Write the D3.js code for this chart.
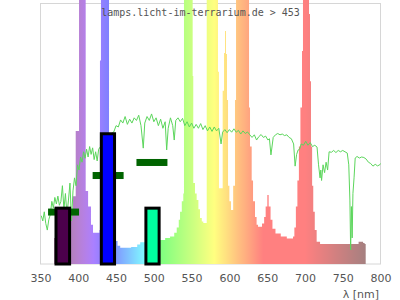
<!DOCTYPE html>
<html lang="en">
<head>
<meta charset="UTF-8">
<title>Lamp spectrum</title>
<script src="https://d3js.org/d3.v7.min.js"></script>
<style>
    body { margin: 0; padding: 0; background: #fff; }
    svg { display: block; }
    .tick text { font-family: 'DejaVu Sans', sans-serif; font-size: 11px; fill: #555; }
</style>
</head>
<body>
<div id="chart"></div>
<script>
// lamp spectrum (step columns, value holds until next wavelength)
const lampNm = [368, 376, 382, 387, 390, 393, 396.6, 401, 409.8, 413, 416.8, 419.5, 428, 428.7, 430, 440.7, 444, 448.6, 452, 455.5,
    470, 478, 482, 492, 505, 515, 521.5, 527, 530.3, 533, 534.7, 537, 539, 539.9, 551.4, 552.2, 554.5, 556.7, 559, 561.1,
    563.5, 565.5, 570, 584.9, 586.2, 591.1, 592.9, 594.2, 595.5, 596.8, 598.2, 600, 602.1, 605, 607.4, 608.8, 626, 627.3, 629.5, 631.3,
    633.9, 636, 637.9, 643.2, 646, 648, 650.2, 652, 654.5, 657, 661, 668, 676, 684.2, 686, 688, 690, 692, 694, 696.1,
    697.4, 705.4, 706.7, 708, 709.5, 711, 713, 715.5, 720, 771, 777, 779, 780.4];
const lampVal = [10, 14, 16, 18, 21, 26, 51, 150, 28, 22, 15, 12, 13, 78, 150, 15, 10, 8.8, 7, 6.2,
    6.5, 7.5, 8.3, 8.8, 9.2, 10, 10.5, 12, 14, 17, 20, 24, 27, 150, 72, 31, 27, 24.5, 21, 17.6,
    16.3, 15.7, 150, 73.7, 29, 66.4, 80.8, 89.3, 80.5, 62.8, 30, 24, 20.7, 30, 62.8, 150, 60, 45, 32, 24,
    18, 15, 14.3, 15.5, 18, 22, 26.4, 22, 17, 13.5, 11.7, 10.5, 9.8, 10.5, 14, 22, 32, 45, 60, 81.6,
    150, 95.8, 70, 45, 30, 20, 13, 8.5, 7.7, 8.5, 8, 7.7, 0];

// daylight reference curve
const sunNm = [351, 353, 355, 357, 359, 361, 363, 365, 367, 369, 371, 373, 375, 377, 379, 381, 383, 385, 387, 389,
    391, 393, 395, 397, 399, 401, 403, 405, 407, 409, 411, 413, 415, 417, 419, 421, 423, 425, 427, 432,
    438, 444, 447, 450, 453, 456, 459, 462, 465, 468, 471, 474, 477, 480, 483, 486, 488, 491, 494, 497,
    500, 503, 506, 509, 512, 515, 517, 519, 522, 525, 527, 529, 532, 535, 538, 541, 544, 547, 550, 553,
    556, 559, 562, 565, 568, 571, 574, 577, 580, 583, 586, 589, 591, 594, 597, 600, 603, 606, 609, 612,
    615, 618, 621, 624, 627, 630, 633, 636, 639, 642, 645, 648, 651, 653, 655, 658, 661, 664, 667, 670,
    673, 676, 679, 682, 685, 687, 689, 691, 693, 695, 698, 701, 704, 707, 710, 713, 716, 718, 720, 721,
    722, 724, 726, 728, 730, 732, 735, 738, 741, 744, 747, 750, 753, 756, 758, 759.5, 760.5, 761.5, 762.5, 763.5,
    765, 766.5, 769, 772, 775, 778, 781, 784, 787, 790, 793, 796, 799, 800];
const sunVal = [18.5, 16.5, 20, 15.5, 13, 17, 19, 24, 21.5, 25.5, 23, 26, 22.5, 24, 30, 21, 27, 19, 24.5, 31,
    16.5, 28, 33, 30, 38, 36, 41, 39, 43, 40.5, 44, 41, 45, 42, 44.5, 40, 43, 39.5, 44, 46,
    48, 50, 50.6, 53, 52.5, 55.2, 54, 56.5, 53.5, 55.5, 54, 56, 55, 57, 53, 44.4, 54, 56.5, 55, 57.5,
    54.5, 56, 53, 55.5, 52, 54.5, 43.7, 52, 56, 53, 47.5, 55, 56, 54.5, 55.8, 53, 54.5, 52.5, 54, 52,
    53.5, 52, 53.8, 51.5, 53, 51, 52.5, 50.8, 52.5, 51, 52, 46, 50.5, 51.5, 50.3, 51.5, 50.5, 51.8, 50.5, 51.2,
    49.8, 51, 50, 50.6, 49.5, 48.5, 49.5, 47.5, 48.8, 49.6, 48.5, 49, 47.5, 48, 41.8, 48.5, 49.5, 50, 49.5, 49.8,
    49.2, 49.5, 48.5, 48, 46, 37.5, 42, 43.7, 44, 46, 45.5, 47, 45.5, 46.5, 45, 45.5, 44.8, 38, 33, 36,
    32, 38, 35, 39, 36, 43, 42.8, 43.5, 42.7, 43.5, 43, 43.5, 43, 42.5, 38, 24.5, 5.4, 22, 10, 27,
    33, 40.6, 41.2, 40.6, 41, 40.8, 40.2, 39, 38.5, 37.5, 38.2, 37.6, 38, 38.5];

// measured bands: bars and dark green marks
const barLo = [370.5, 430.5, 489.5];
const barHi = [388.5, 448, 507];
const barVal = [21.4, 49.9, 21.4];
const barColor = ["#4b004b", "#0000ff", "#00ffa0"];
const markLo = [360, 419, 477];
const markHi = [401, 460, 518];
const markVal = [19.9, 33.9, 38.9];

const xTicks = [350, 400, 450, 500, 550, 600, 650, 700, 750, 800];
const title = "lamps.licht-im-terrarium.de > 453";

const width = 400, height = 300;
const x = d3.scaleLinear().domain([350, 800]).range([40.5, 380.5]);
const y = d3.scaleLinear().domain([0, 100]).range([264, 3]);

const svg = d3.select("#chart").append("svg")
    .attr("width", width)
    .attr("height", height);

// wavelength -> colour, mixed half way with white
function nmColor(l) {
    let r = 0, g = 0, b = 0;
    if (l < 440) { r = -(l - 440) / 60; b = 1; }
    else if (l < 490) { g = (l - 440) / 50; b = 1; }
    else if (l < 510) { g = 1; b = -(l - 510) / 20; }
    else if (l < 580) { r = (l - 510) / 70; g = 1; }
    else if (l < 645) { r = 1; g = -(l - 645) / 65; }
    else { r = 1; }
    let f = 1;
    if (l < 420) f = 0.3 + 0.7 * Math.max(0, l - 380) / 40;
    else if (l > 700) f = 0.3 + 0.7 * Math.max(0, 780 - l) / 80;
    const mix = v => Math.round(255 * (0.5 + 0.5 * v * f));
    return d3.rgb(mix(r), mix(g), mix(b)).toString();
}

const grad = svg.append("defs").append("linearGradient")
    .attr("id", "spec")
    .attr("gradientUnits", "userSpaceOnUse")
    .attr("x1", x(350)).attr("x2", x(800))
    .attr("y1", 0).attr("y2", 0);
d3.range(350, 801, 5).forEach(l => {
    grad.append("stop")
        .attr("offset", (l - 350) / 450)
        .attr("stop-color", nmColor(l));
});

// frame
svg.append("rect")
    .attr("x", x(350)).attr("y", y(100) + 0.5)
    .attr("width", x(800) - x(350)).attr("height", y(0) - y(100) - 0.5)
    .attr("fill", "none")
    .attr("stroke", "#d6d6d6")
    .attr("stroke-width", 1);

// lamp spectrum
const lamp = lampNm.map((d, i) => ({ nm: d, v: lampVal[i] }));
svg.append("path")
    .datum(lamp)
    .attr("fill", "url(#spec)")
    .attr("d", d3.area()
        .curve(d3.curveStepAfter)
        .x(d => x(d.nm))
        .y0(y(0))
        .y1(d => y(d.v)));

// daylight curve
const sun = sunNm.map((d, i) => ({ nm: d, v: sunVal[i] }));
svg.append("path")
    .datum(sun)
    .attr("fill", "none")
    .attr("stroke", "#5cd65c")
    .attr("stroke-width", 1)
    .attr("d", d3.line()
        .x(d => x(d.nm))
        .y(d => y(d.v)));

// dark green marks
svg.append("g")
    .selectAll("rect")
    .data(markVal)
    .enter().append("rect")
    .attr("x", (d, i) => x(markLo[i]))
    .attr("width", (d, i) => x(markHi[i]) - x(markLo[i]))
    .attr("y", d => y(d) - 3.5)
    .attr("height", 7)
    .attr("fill", "#006400");

// bars
svg.append("g")
    .selectAll("rect")
    .data(barVal)
    .enter().append("rect")
    .attr("x", (d, i) => x(barLo[i]))
    .attr("width", (d, i) => x(barHi[i]) - x(barLo[i]))
    .attr("y", d => y(d))
    .attr("height", d => y(0) - y(d))
    .attr("fill", (d, i) => barColor[i])
    .attr("stroke", "#000")
    .attr("stroke-width", 3);

// x axis
const axis = svg.append("g")
    .attr("transform", `translate(0,${y(0)})`)
    .call(d3.axisBottom(x).tickValues(xTicks).tickSize(0).tickPadding(10).tickFormat(d3.format("d")));
axis.select(".domain").remove();

svg.append("text")
    .attr("x", 379)
    .attr("y", 297.5)
    .attr("text-anchor", "end")
    .attr("font-family", "'DejaVu Sans', sans-serif")
    .attr("font-size", 11)
    .attr("fill", "#555")
    .text("λ [nm]");

svg.append("text")
    .attr("x", 200.5)
    .attr("y", 15.5)
    .attr("text-anchor", "middle")
    .attr("font-family", "'DejaVu Sans Mono', monospace")
    .attr("font-size", 10)
    .attr("fill", "#555")
    .text(title);
</script>
</body>
</html>
